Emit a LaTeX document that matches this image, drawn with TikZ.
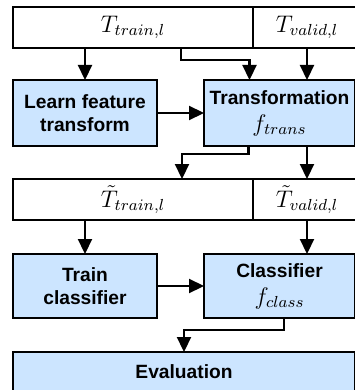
\documentclass[tikz,border=0pt]{standalone}
\usepackage{amsmath,amssymb}
\usepackage{fontspec}
\setsansfont{Liberation Sans}
\usepackage{tikz}
\usetikzlibrary{arrows.meta, positioning, calc}
\definecolor{boxblue}{HTML}{CCE5FF}

\begin{document}
\begin{tikzpicture}[
    data/.style={rectangle, draw=black, fill=white, line width=1.1pt,
                 inner sep=0pt, outer sep=0pt, minimum height=20.5pt,
                 font=\large},
    stage/.style={rectangle, draw=black, fill=boxblue, line width=1.1pt,
                  inner sep=0pt, outer sep=0pt, align=center,
                  font=\fontsize{9.6}{11.5}\selectfont\sffamily\bfseries},
    link/.style={-{Triangle[length=7.5pt,width=7pt]}, line width=1.1pt, black}
]
    \useasboundingbox (0,0) rectangle (177pt,-195pt);

    \node[data, anchor=north west, minimum width=120pt] (trainT) at (6.5pt,-3.5pt) {$T_{train,l}$};
    \node[data, anchor=west, minimum width=54pt] (validT) at (trainT.east) {$T_{valid,l}$};

    \node[stage, anchor=north west, minimum width=72pt, minimum height=33pt] (learn) at (6.5pt,-40pt) {Learn feature\\transform};
    \node[stage, anchor=north west, minimum width=75.5pt, minimum height=33pt] (trans) at (102pt,-40pt) {Transformation\\[2pt]{\normalfont\large$f_{trans}$}};

    \node[data, anchor=north west, minimum width=120pt] (tildeTrain) at (6.5pt,-89.5pt) {$\tilde{T}_{train,l}$};
    \node[data, anchor=west, minimum width=54pt] (tildeValid) at (tildeTrain.east) {$\tilde{T}_{valid,l}$};

    \node[stage, anchor=north west, minimum width=72pt, minimum height=32pt] (trainclf) at (6.5pt,-127pt) {Train\\classifier};
    \node[stage, anchor=north west, minimum width=75.5pt, minimum height=32pt] (clf) at (102pt,-127pt) {Classifier\\[2pt]{\normalfont\large$f_{class}$}};

    \node[stage, anchor=north west, minimum width=171pt, minimum height=20pt] (eval) at (6.5pt,-176pt) {Evaluation};

    \draw[link] (trainT.south -| learn.north) -- (learn.north);
    \draw[link] ($(trainT.south)+(24pt,0)$) -- ++(0,-6pt) -| ($(trans.north)+(-15pt,0)$);
    \draw[link] (validT.south) -- (validT.south |- trans.north);
    \draw[link] (learn.east) -- (learn.east -| trans.west);

    \draw[link] ($(trans.south)+(-15.5pt,0)$) -- ++(0,-4pt) -| ($(tildeTrain.north)+(24.5pt,0)$);
    \draw[link] (tildeValid.north |- trans.south) -- (tildeValid.north);

    \draw[link] (tildeTrain.south -| trainclf.north) -- (trainclf.north);
    \draw[link] (tildeValid.south) -- (tildeValid.south |- clf.north);
    \draw[link] (trainclf.east) -- (trainclf.east -| clf.west);

    \draw[link] ($(clf.south)+(2.25pt,0)$) -- ++(0,-6pt) -| (eval.north);
\end{tikzpicture}
\end{document}
